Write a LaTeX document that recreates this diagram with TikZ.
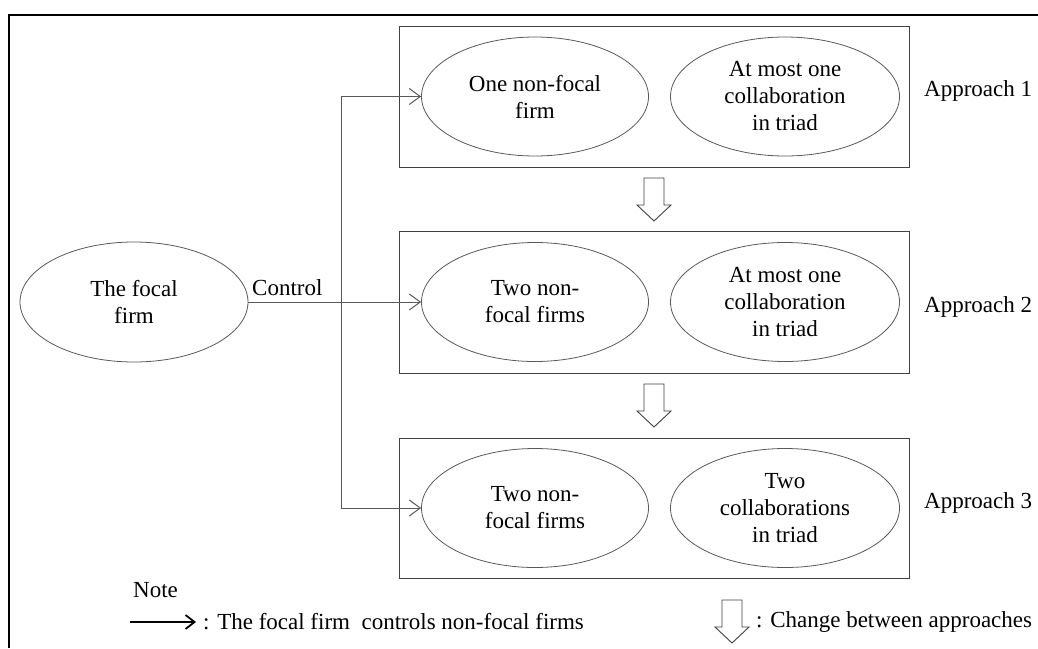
\documentclass[tikz,border=0pt]{standalone}
\usepackage{fontspec}
\setmainfont{Liberation Serif}
\usetikzlibrary{shapes.geometric,arrows.meta}
\begin{document}
\begin{tikzpicture}[x=1pt,y=-1pt,
  every node/.style={font=\fontsize{23}{27}\selectfont, align=center},
  oval/.style={ellipse, draw=black!65, line width=0.8pt, inner sep=0pt},
  panel/.style={rectangle, draw=black!75, line width=1pt, inner sep=0pt},
  conn/.style={draw=black!65, line width=1pt, {Straight Barb[length=11pt,width=16pt]}-{Straight Barb[length=11pt,width=16pt]}},
  connone/.style={draw=black!65, line width=1pt, -{Straight Barb[length=11pt,width=16pt]}},
  label/.style={anchor=west, inner sep=0pt},
  changearrow/.pic={
    \draw[draw=black!75, fill=white, line width=0.9pt, line join=miter]
      (-10,0) -- (10,0) -- (10,27) -- (17,27) -- (0,43) -- (-17,27) -- (-10,27) -- cycle;
  }]
\useasboundingbox (0,0) rectangle (1038,648);
% outer frame
\draw[line width=2.5pt] (9,648) -- (9,15) -- (1038,15);

% the focal firm
\node[oval, minimum width=228pt, minimum height=120pt] (focal) at (134,302) {The focal\\firm};

% approach panels
\node[panel, minimum width=510pt, minimum height=141pt] (box1) at (654,96.5) {};
\node[panel, minimum width=510pt, minimum height=142pt] (box2) at (654,302) {};
\node[panel, minimum width=510pt, minimum height=140pt] (box3) at (654,508) {};

\node[oval, minimum width=227pt, minimum height=119pt] (e11) at (535,96.5) {One non-focal\\firm};
\node[oval, minimum width=229pt, minimum height=119pt] (e12) at (785,96.5) {At most one\\collaboration\\in triad};
\node[oval, minimum width=227pt, minimum height=119pt] (e21) at (535,302) {Two non-\\focal firms};
\node[oval, minimum width=229pt, minimum height=119pt] (e22) at (785,302) {At most one\\collaboration\\in triad};
\node[oval, minimum width=227pt, minimum height=119pt] (e31) at (535,508) {Two non-\\focal firms};
\node[oval, minimum width=229pt, minimum height=119pt] (e32) at (785,508) {Two\\collaborations\\in triad};

\node[label] (ap1) at (924,91) {Approach 1};
\node[label] (ap2) at (924,307) {Approach 2};
\node[label] (ap3) at (924,503) {Approach 3};

% changes between approaches
\pic at (654,178) {changearrow};
\pic at (654,384) {changearrow};

% control connectors
\node[anchor=base west, inner sep=0pt] (ctl) at (252,295) {Control};
\draw[connone] (focal.east) -- (e21.west);
\coordinate (jt) at (341,96.5);
\coordinate (jb) at (341,508);
\draw[conn] (e11.west) -- (jt) -- (jb) -- (e31.west);

% legend
\node[label] (note) at (133,590) {Note};
\coordinate (la) at (130,622);
\coordinate (lb) at (196,622);
\draw[line width=1.8pt, -{Straight Barb[length=9pt,width=14pt]}] (la) -- (lb);
\node[label] (lt1) at (203,622) {: The focal firm\ \ controls non-focal firms};
\pic at (732,600) {changearrow};
\node[label] (lt2) at (756,622) {: Change between approaches};
\end{tikzpicture}
\end{document}
